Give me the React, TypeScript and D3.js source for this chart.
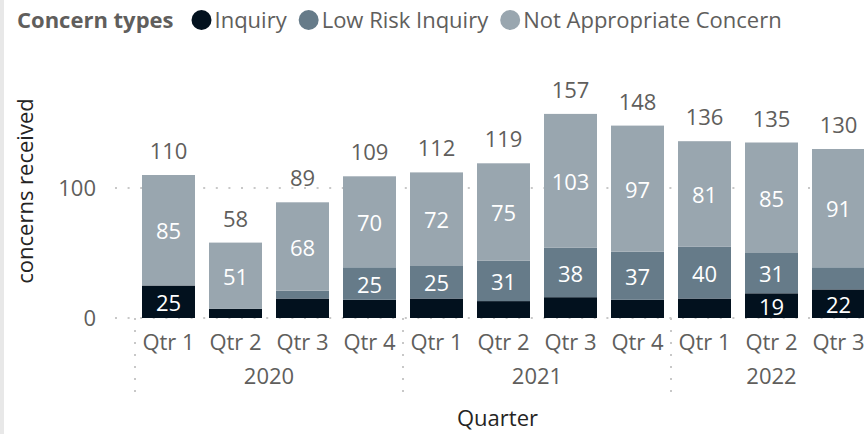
import React, { useEffect, useRef } from "react";
import * as d3 from "d3";

const years = ["2020", "2020", "2020", "2020", "2021", "2021", "2021", "2021", "2022", "2022", "2022"];
const quarters = ["Qtr 1", "Qtr 2", "Qtr 3", "Qtr 4", "Qtr 1", "Qtr 2", "Qtr 3", "Qtr 4", "Qtr 1", "Qtr 2", "Qtr 3"];
const inquiry = [25, 7, 15, 14, 15, 13, 16, 14, 15, 19, 22];
const lowRisk = [0, 0, 6, 25, 25, 31, 38, 37, 40, 31, 17];
const notAppropriate = [85, 51, 68, 70, 72, 75, 103, 97, 81, 85, 91];
const seriesNames = ["Inquiry", "Low Risk Inquiry", "Not Appropriate Concern"];
const seriesColors = ["#02111e", "#667b89", "#99a6af"];
const yTicks = [0, 100];

const W = 864;
const H = 434;
const FONT = "'Open Sans', 'Noto Sans', sans-serif";
const TEXT = "#605e5c";

export default function App() {
  const ref = useRef<SVGSVGElement | null>(null);

  useEffect(() => {
    const svg = d3.select(ref.current);
    svg.selectAll("*").remove();

    const rows = quarters.map((q, i) => ({
      key: `${years[i]}-${q}`,
      year: years[i],
      quarter: q,
      [seriesNames[0]]: inquiry[i],
      [seriesNames[1]]: lowRisk[i],
      [seriesNames[2]]: notAppropriate[i],
    }));

    const plotLeft = 115;
    const bandStart = 135;
    const step = 67;
    const x = d3
      .scaleBand<string>()
      .domain(rows.map((r) => r.key))
      .range([bandStart, bandStart + step * rows.length])
      .paddingInner(14 / 67)
      .paddingOuter(7 / 67);

    const y = d3.scaleLinear().domain([0, 180]).range([318, 318 - 1.3 * 180]);

    // left grey strip
    svg.append("rect").attr("x", 0).attr("y", 0).attr("width", 4).attr("height", H).attr("fill", "#e8e8e8");

    // gridlines
    const g = svg.append("g");
    g.selectAll("line.grid")
      .data(yTicks)
      .enter()
      .append("line")
      .attr("x1", plotLeft)
      .attr("x2", W + 20)
      .attr("y1", (d) => y(d))
      .attr("y2", (d) => y(d))
      .attr("stroke", "#c8c8c8")
      .attr("stroke-width", 2)
      .attr("stroke-dasharray", "2 10.6");

    // y tick labels
    g.selectAll("text.ytick")
      .data(yTicks)
      .enter()
      .append("text")
      .attr("x", 96)
      .attr("y", (d) => y(d) + 8)
      .attr("text-anchor", "end")
      .attr("font-family", FONT)
      .attr("font-size", 22)
      .attr("fill", TEXT)
      .text((d) => String(d));

    // y axis title
    svg
      .append("text")
      .attr("transform", `translate(33,191) rotate(-90)`)
      .attr("text-anchor", "middle")
      .attr("font-family", FONT)
      .attr("font-size", 22)
      .attr("fill", "#252423")
      .text("concerns received");

    // stacked bars
    const stack = d3.stack<any>().keys(seriesNames);
    const stacked = stack(rows as any);
    const bw = x.bandwidth();

    stacked.forEach((layer, si) => {
      const lg = svg.append("g");
      lg.selectAll("rect")
        .data(layer)
        .enter()
        .append("rect")
        .attr("x", (d: any) => x(d.data.key)!)
        .attr("width", bw)
        .attr("y", (d: any) => y(d[1]))
        .attr("height", (d: any) => y(d[0]) - y(d[1]))
        .attr("fill", seriesColors[si]);
    });

    // inside labels
    stacked.forEach((layer) => {
      const lg = svg.append("g");
      lg.selectAll("text")
        .data(layer.filter((d: any) => y(d[0]) - y(d[1]) >= 23))
        .enter()
        .append("text")
        .attr("x", (d: any) => x(d.data.key)! + bw / 2)
        .attr("y", (d: any) => (y(d[0]) + y(d[1])) / 2 + 9)
        .attr("text-anchor", "middle")
        .attr("font-family", FONT)
        .attr("font-size", 22)
        .attr("fill", "#ffffff")
        .text((d: any) => String(d[1] - d[0]));
    });

    // total labels
    const totals = rows.map((r, i) => inquiry[i] + lowRisk[i] + notAppropriate[i]);
    svg
      .append("g")
      .selectAll("text")
      .data(rows)
      .enter()
      .append("text")
      .attr("x", (d) => x(d.key)! + bw / 2)
      .attr("y", (d, i) => y(totals[i]) - 16)
      .attr("text-anchor", "middle")
      .attr("font-family", FONT)
      .attr("font-size", 22)
      .attr("fill", TEXT)
      .text((d, i) => String(totals[i]));

    // x quarter labels
    svg
      .append("g")
      .selectAll("text")
      .data(rows)
      .enter()
      .append("text")
      .attr("x", (d) => x(d.key)! + bw / 2)
      .attr("y", 350)
      .attr("text-anchor", "middle")
      .attr("font-family", FONT)
      .attr("font-size", 22)
      .attr("fill", TEXT)
      .text((d) => d.quarter);

    // year groups
    const yearList = Array.from(new Set(years));
    const pad = (x.step() - bw) / 2;
    yearList.forEach((yr) => {
      const rs = rows.filter((r) => r.year === yr);
      const first = x(rs[0].key)! - pad;
      svg
        .append("line")
        .attr("x1", first)
        .attr("x2", first)
        .attr("y1", 318)
        .attr("y2", 396)
        .attr("stroke", "#c8c8c8")
        .attr("stroke-width", 2)
        .attr("stroke-dasharray", "2 10");
      const cx = d3.mean(rs, (r) => x(r.key)! + bw / 2)!;
      svg
        .append("text")
        .attr("x", cx)
        .attr("y", 384)
        .attr("text-anchor", "middle")
        .attr("font-family", FONT)
        .attr("font-size", 22)
        .attr("fill", TEXT)
        .text(yr);
    });

    // x axis title
    svg
      .append("text")
      .attr("x", (plotLeft + 880) / 2)
      .attr("y", 426)
      .attr("text-anchor", "middle")
      .attr("font-family", FONT)
      .attr("font-size", 22)
      .attr("fill", "#252423")
      .text("Quarter");

    // legend
    const leg = svg.append("g");
    const title = leg
      .append("text")
      .attr("x", 17)
      .attr("y", 28)
      .attr("font-family", FONT)
      .attr("font-size", 22)
      .attr("font-weight", "bold")
      .attr("fill", TEXT)
      .text("Concern types");
    let cursor = 17 + (title.node() as SVGTextElement).getComputedTextLength() + 18;
    seriesNames.forEach((name, i) => {
      leg
        .append("circle")
        .attr("cx", cursor + 10)
        .attr("cy", 20)
        .attr("r", 10)
        .attr("fill", seriesColors[i]);
      const t = leg
        .append("text")
        .attr("x", cursor + 23)
        .attr("y", 28)
        .attr("font-family", FONT)
        .attr("font-size", 22)
        .attr("fill", TEXT)
        .text(name);
      cursor += 23 + (t.node() as SVGTextElement).getComputedTextLength() + 12;
    });
  }, []);

  return (
    <svg
      ref={ref}
      width={W}
      height={H}
      style={{ position: "absolute", left: 0, top: 0, background: "#ffffff", display: "block" }}
    />
  );
}
